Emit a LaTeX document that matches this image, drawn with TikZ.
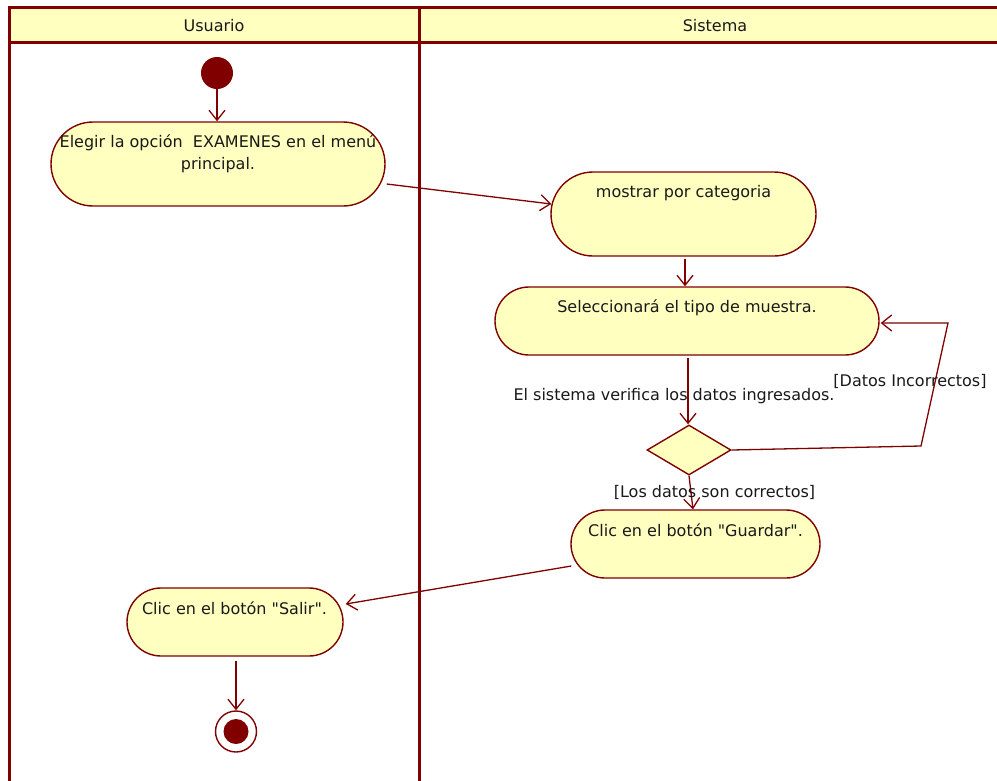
\documentclass[tikz,border=0pt]{standalone}
\usepackage{fontspec}
\setmainfont{DejaVu Sans}[Ligatures=TeXOff]
\usetikzlibrary{arrows.meta,shapes.geometric,calc}
\definecolor{umlred}{RGB}{128,0,0}
\definecolor{umlfill}{RGB}{255,255,192}
\begin{document}
\begin{tikzpicture}[x=1pt,y=-1pt,
  font=\fontsize{16}{22}\selectfont,
  lane/.style={draw=umlred,line width=3pt},
  actbox/.style={draw=umlred,fill=umlfill,line width=1.4pt,rectangle,inner sep=0pt},
  txt/.style={inner sep=0pt,align=center,text=black!90},
  flow/.style={draw=umlred,line width=1.3pt,-{Straight Barb[length=10pt,width=16pt,line width=1.3pt]}},
  edge/.style={draw=umlred,line width=1.3pt}]
\useasboundingbox (0,0) rectangle (997,780);
% swimlane headers
\fill[umlfill] (9,7) rectangle (1000,42);
\draw[lane] (9,7) -- (1000,7);
\draw[lane] (9,42) -- (1000,42);
\draw[lane] (9,5.5) -- (9,782);
\draw[lane] (419,5.5) -- (419,782);
\node[txt] (hUsuario) at (214,26) {Usuario};
\node[txt] (hSistema) at (715,26) {Sistema};
% initial and final nodes
\node[circle,fill=umlred,minimum size=32pt,inner sep=0pt] (start) at (217,73) {};
\node[circle,draw=umlred,line width=1.4pt,fill=white,minimum size=41pt,inner sep=0pt] (stop) at (236,731.5) {};
\node[circle,fill=umlred,minimum size=25pt,inner sep=0pt] (stopdot) at (236,731.5) {};
% activities
\node[actbox,rounded corners=42pt,minimum width=334pt,minimum height=84pt] (elegir) at (218,164) {};
\node[txt] (elegirT) at (218,154) {Elegir la opción\ \ EXAMENES en el menú\\principal.};
\node[actbox,rounded corners=42pt,minimum width=265pt,minimum height=84pt] (mostrar) at (683.5,214) {};
\node[txt] (mostrarT) at (683.5,193) {mostrar por categoria};
\node[actbox,rounded corners=34pt,minimum width=384pt,minimum height=68pt] (selec) at (687,321) {};
\node[txt] (selecT) at (687,308) {Seleccionará el tipo de muestra.};
\node[actbox,diamond,minimum width=84pt,minimum height=50pt] (dec) at (689,450) {};
\node[actbox,rounded corners=34pt,minimum width=249pt,minimum height=68pt] (guardar) at (695.5,544) {};
\node[txt] (guardarT) at (695.5,530) {Clic en el botón "Guardar".};
\node[actbox,rounded corners=34pt,minimum width=216pt,minimum height=68pt] (salir) at (235,622) {};
\node[txt] (salirT) at (234.5,608) {Clic en el botón "Salir".};
% flows
\draw[flow] (start) -- ($(elegir.north)+(-1,0)$);
\draw[flow] ($(elegir.east)+(1,20)$) -- ($(mostrar.west)+(1,-10)$);
\draw[flow] ($(mostrar.south)+(1.5,2)$) -- ($(selec.north)+(-2,0)$);
\draw[flow] ($(selec.south)+(1,2)$) -- ($(dec.north)+(-1,0)$);
\coordinate (loopA) at (921,446);
\coordinate (loopB) at (948,323);
\draw[flow] (dec.east) -- (loopA) -- (loopB) -- ($(selec.east)+(1,2)$);
\draw[flow] (dec.south) -- ($(guardar.north)+(-2.5,0)$);
\draw[flow] ($(guardar.west)+(1,22)$) -- ($(salir.east)+(2,-18)$);
\draw[flow] ($(salir.south)+(1,4)$) -- (stop.north);
% guard and action labels
\node[txt] (lblVerif) at (674,396) {El sistema verifica los datos ingresados.};
\node[txt] (lblIncorr) at (910,381) {[Datos Incorrectos]};
\node[txt] (lblCorr) at (714.5,492) {[Los datos son correctos]};
\end{tikzpicture}
\end{document}
